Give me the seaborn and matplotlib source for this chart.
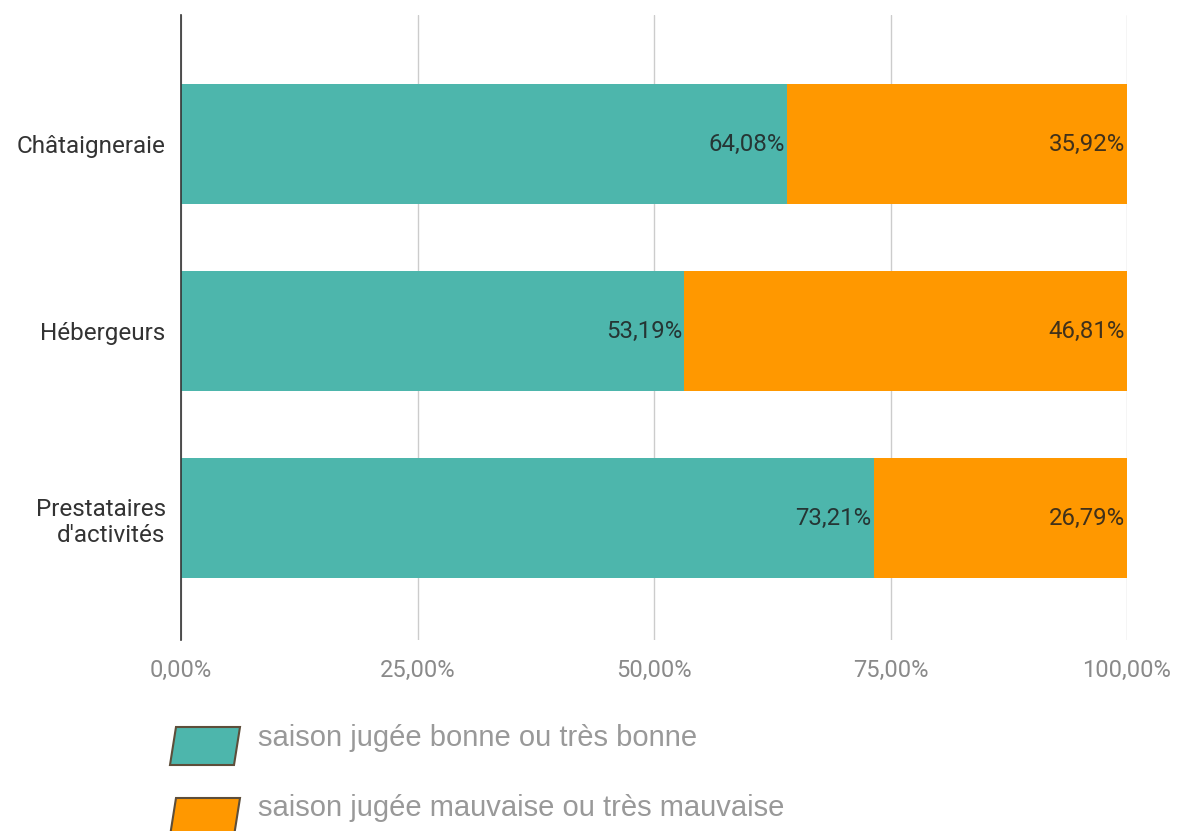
import matplotlib
matplotlib.use("Agg")
import matplotlib.pyplot as plt
from matplotlib.patches import Polygon
from matplotlib.ticker import FuncFormatter
import seaborn as sns
import pandas as pd

categories = ["Châtaigneraie", "Hébergeurs", "Prestataires\nd'activités"]
bonne = [64.08, 53.19, 73.21]
mauvaise = [35.92, 46.81, 26.79]
series_names = ["saison jugée bonne ou très bonne", "saison jugée mauvaise ou très mauvaise"]
xticks = [0, 25, 50, 75, 100]

teal = "#4DB6AC"
orange = "#FF9800"

sns.set_theme(style="white")
plt.rcParams["font.family"] = ["Roboto", "DejaVu Sans"]

fig = plt.figure(figsize=(11.78, 8.31), dpi=100)
ax = fig.add_axes([181/1178, 1-640/831, (1127-181)/1178, (640-15)/831])

df = pd.DataFrame({"cat": categories, "bonne": bonne, "mauvaise": mauvaise})
df["total"] = df["bonne"] + df["mauvaise"]

sns.barplot(data=df, x="total", y="cat", color=orange, width=0.64, ax=ax,
            saturation=1, orient="h", zorder=3, linewidth=0)
sns.barplot(data=df, x="bonne", y="cat", color=teal, width=0.64, ax=ax,
            saturation=1, orient="h", zorder=3, linewidth=0)

for i, (b, m) in enumerate(zip(bonne, mauvaise)):
    ax.text(b - 0.2, i, f"{b:.2f}%".replace(".", ","), ha="right", va="center",
            fontsize=17.3, color="#1f1f1f", alpha=0.85, zorder=5)
    ax.text(b + m - 0.2, i, f"{m:.2f}%".replace(".", ","), ha="right", va="center",
            fontsize=17.3, color="#1f1f1f", alpha=0.85, zorder=5)

ax.set_xlim(0, 100)
ax.set_ylim(2.65, -0.69)
ax.set_xticks(xticks)
ax.xaxis.set_major_formatter(FuncFormatter(lambda v, p: f"{v:.2f}%".replace(".", ",")))
ax.grid(axis="x", color="#cccccc", linewidth=1, zorder=0)
ax.grid(axis="y", visible=False)
for s in ["top", "right", "bottom"]:
    ax.spines[s].set_visible(False)
ax.spines["left"].set_color("#333333")
ax.spines["left"].set_linewidth(1.2)
ax.spines["left"].set_zorder(6)
ax.tick_params(axis="x", length=0, pad=14, labelsize=17, labelcolor="#8a8a8a")
ax.tick_params(axis="y", length=0, pad=11, labelsize=17.5, labelcolor="#333333")
ax.set_xlabel("")
ax.set_ylabel("")

# legend with parallelogram swatches
W, H = 1178, 831
def para(y_top, color):
    pts = [(176, y_top), (240, y_top), (234, y_top + 38), (170, y_top + 38)]
    pts = [(x / W, 1 - y / H) for x, y in pts]
    fig.patches.append(Polygon(pts, closed=True, transform=fig.transFigure,
                               facecolor=color, edgecolor="#5d4e3a", linewidth=1.5))

para(727, teal)
para(798, orange)
fig.text(258/W, 1-738/H, series_names[0], fontsize=21, color="#999999", va="center",
         family=["Liberation Sans", "DejaVu Sans"])
fig.text(258/W, 1-808/H, series_names[1], fontsize=21, color="#999999", va="center",
         family=["Liberation Sans", "DejaVu Sans"])

fig.savefig("out.png", dpi=100)
